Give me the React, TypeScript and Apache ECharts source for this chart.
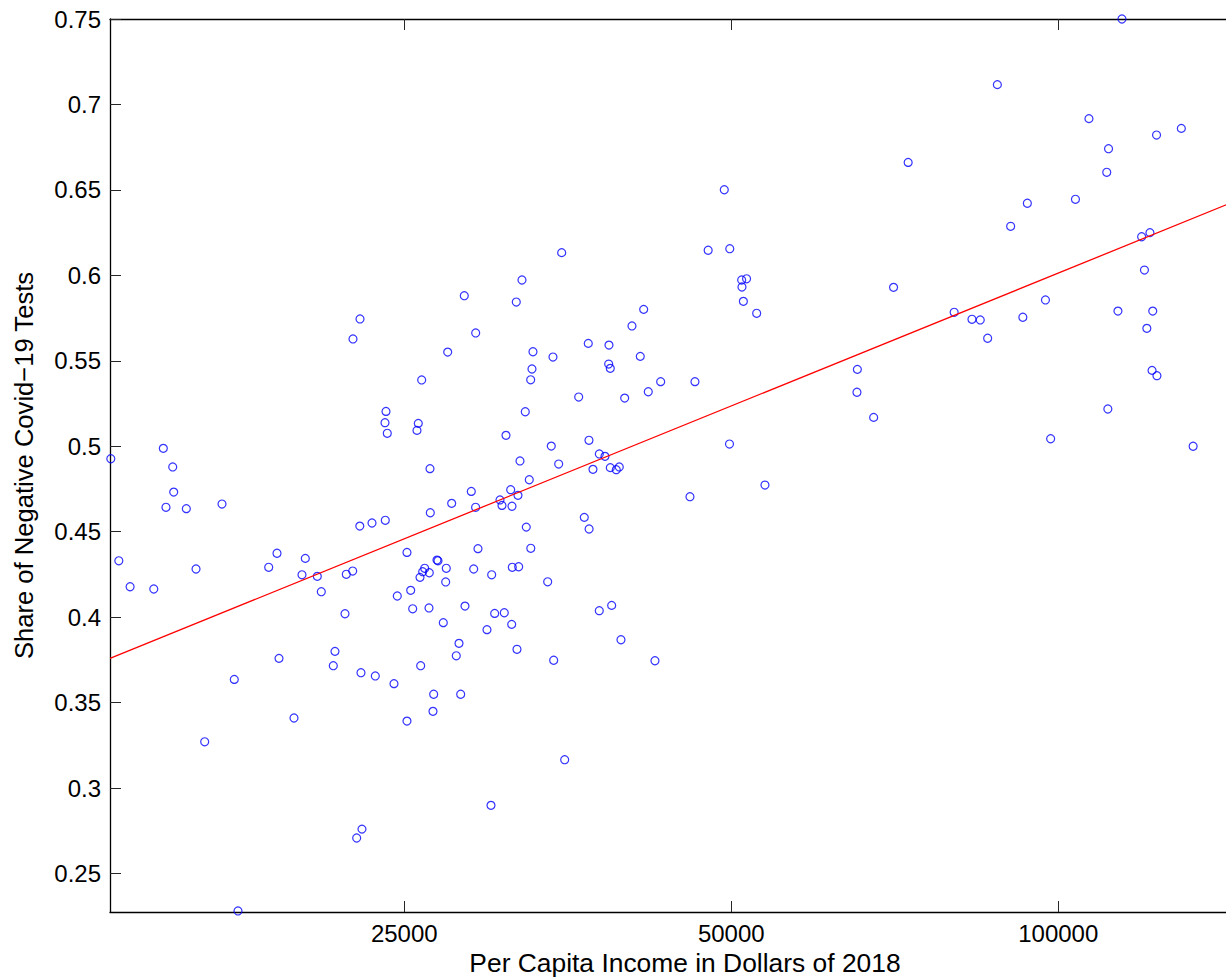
import React, { useEffect, useRef } from "react";
import * as echarts from "echarts";

// Per capita income (dollars of 2018)
const INCOME = [
  13420, 13650, 13980, 14700, 15000, 15085, 15302, 15334, 15750, 16077,
  16375, 16987, 17435, 17573, 18755, 19088, 19169, 19788, 20126, 20268,
  20790, 20967, 21584, 21507, 22047, 22107, 22424, 22410, 22600, 22760,
  22750, 22807, 22855, 23346, 23510, 24049, 23998, 24013, 24115, 24460,
  24632, 25143, 25143, 25342, 25449, 25682, 25753, 25846, 25884, 25939,
  25994, 26105, 26361, 26344, 26400, 26417, 26607, 26568, 26794, 26851,
  27155, 27293, 27328, 27409, 27642, 27913, 28074, 28175, 28391, 28433,
  28815, 28962, 29085, 29080, 29227, 29790, 30044, 30088, 30280, 30623,
  30753, 30903, 31015, 31325, 31432, 31392, 31412, 31699, 31861, 31813,
  31746, 31949, 32084, 32309, 32378, 32584, 32681, 32690, 32771, 32841,
  33880, 34140, 34263, 34314, 34680, 34901, 35124, 36182, 36614, 36925,
  36980, 36990, 37295, 37796, 37800, 38256, 38557, 38581, 38688, 38690,
  38803, 39183, 39433, 39576, 39887, 40509, 41228, 41527, 41933, 42533,
  43050, 45808, 46296, 47610, 49265, 49842, 49811, 51114, 51147, 51647,
  51299, 52766, 53702, 65321, 65266, 67617, 70531, 72748, 80199, 83283,
  84761, 86101, 87890, 90403, 92771, 93660, 97324, 98402, 103714, 106725,
  110828, 111251, 111087, 113490, 114457, 119337, 120047, 120660, 121455, 122179,
  121998, 123271, 123167, 129812, 133100,
];

// Share of negative Covid-19 tests, same order as INCOME
const NEG_SHARE = [
  0.4927, 0.4330, 0.4178, 0.4165, 0.4988, 0.4643, 0.4879, 0.4732, 0.4635, 0.4282,
  0.3271, 0.4662, 0.3636, 0.2281, 0.4292, 0.4374, 0.3759, 0.3410, 0.4248, 0.4344,
  0.4239, 0.4149, 0.3800, 0.3716, 0.4020, 0.4251, 0.5628, 0.4270, 0.2708, 0.5745,
  0.4533, 0.3675, 0.2760, 0.4551, 0.3656, 0.5204, 0.5138, 0.4567, 0.5076, 0.3611,
  0.4124, 0.4379, 0.3392, 0.4157, 0.4049, 0.5093, 0.5134, 0.4233, 0.3716, 0.5388,
  0.4266, 0.4286, 0.4260, 0.4054, 0.4869, 0.4611, 0.3549, 0.3449, 0.4334, 0.4330,
  0.3968, 0.4206, 0.4286, 0.5551, 0.4666, 0.3774, 0.3847, 0.3549, 0.5881, 0.4065,
  0.4736, 0.4282, 0.5663, 0.4643, 0.4401, 0.3927, 0.2899, 0.4248, 0.4022, 0.4686,
  0.4654, 0.4026, 0.5064, 0.4746, 0.4292, 0.3958, 0.4649, 0.5844, 0.4295, 0.4713,
  0.3812, 0.4914, 0.5973, 0.5202, 0.4527, 0.4804, 0.5389, 0.4403, 0.5452, 0.5553,
  0.4207, 0.5001, 0.5522, 0.3748, 0.4896, 0.6133, 0.3166, 0.5288, 0.4584, 0.5602,
  0.5035, 0.4516, 0.4865, 0.4038, 0.4955, 0.4941, 0.5481, 0.5592, 0.5456, 0.4875,
  0.4069, 0.4863, 0.4879, 0.3868, 0.5282, 0.5704, 0.5526, 0.5801, 0.5319, 0.3745,
  0.5378, 0.4705, 0.5378, 0.6147, 0.6501, 0.6156, 0.5013, 0.5973, 0.5932, 0.5980,
  0.5848, 0.5778, 0.4773, 0.5450, 0.5316, 0.5169, 0.5930, 0.6661, 0.5784, 0.5743,
  0.5739, 0.5632, 0.7116, 0.6287, 0.5755, 0.6422, 0.5856, 0.5044, 0.6445, 0.6917,
  0.6603, 0.6741, 0.5218, 0.5791, 0.7500, 0.6226, 0.6031, 0.5690, 0.6250, 0.5791,
  0.5444, 0.5413, 0.6821, 0.6860, 0.5000,
];

// Fitted line (straight on the log income axis), end points
const FIT_INCOME = [13397, 153370];
const FIT_SHARE = [0.3759, 0.6493];

const X_TICKS = [25000, 50000, 100000];
const Y_TICKS = [0.25, 0.3, 0.35, 0.4, 0.45, 0.5, 0.55, 0.6, 0.65, 0.7, 0.75];

const X_MIN = 13397;
const X_MAX = 153370;
const Y_MIN = 0.2275;
const Y_MAX = 0.75;

export default function App() {
  const ref = useRef<HTMLDivElement>(null);

  useEffect(() => {
    if (!ref.current) return;
    const chart = echarts.init(ref.current, null, { renderer: "svg" });
    const font = "'Liberation Sans', Arial, Helvetica, sans-serif";
    const lineStyle = { color: "#000000", width: 1.3 };
    const tickStyle = { color: "#262626", width: 1 };

    chart.setOption({
      animation: false,
      backgroundColor: "#ffffff",
      grid: {
        left: 110,
        top: 19,
        width: 1150,
        height: 893,
        containLabel: false,
        outerBoundsMode: "none",
      },
      xAxis: [
        {
          type: "log",
          logBase: 10,
          min: X_MIN,
          max: X_MAX,
          position: "bottom",
          name: "Per Capita Income in Dollars of 2018",
          nameLocation: "middle",
          nameGap: 37,
          nameTextStyle: { fontFamily: font, fontSize: 26.4, color: "#000" },
          axisLine: { show: true, lineStyle },
          axisTick: { show: true, inside: true, length: 11, customValues: X_TICKS, lineStyle: tickStyle },
          axisLabel: {
            show: true,
            customValues: X_TICKS,
            margin: 9,
            fontFamily: font,
            fontSize: 24,
            color: "#000",
            formatter: (v: number) => String(Math.round(v)),
          },
          splitLine: { show: false },
          minorTick: { show: false },
          minorSplitLine: { show: false },
        },
        {
          type: "log",
          logBase: 10,
          min: X_MIN,
          max: X_MAX,
          position: "top",
          axisLine: { show: true, lineStyle },
          axisTick: { show: true, inside: true, length: 11, customValues: X_TICKS, lineStyle: tickStyle },
          axisLabel: { show: false },
          splitLine: { show: false },
        },
      ],
      yAxis: [
        {
          type: "value",
          min: Y_MIN,
          max: Y_MAX,
          position: "left",
          name: "Share of Negative Covid\u221219 Tests",
          nameLocation: "middle",
          nameGap: 73,
          nameTextStyle: { fontFamily: font, fontSize: 25.6, color: "#000" },
          axisLine: { show: true, lineStyle },
          axisTick: { show: true, inside: true, length: 11, customValues: Y_TICKS, lineStyle: tickStyle },
          axisLabel: {
            show: true,
            customValues: Y_TICKS,
            margin: 9,
            fontFamily: font,
            fontSize: 24,
            color: "#000",
            formatter: (v: number) => String(Math.round(v * 100) / 100),
          },
          splitLine: { show: false },
        },
      ],
      series: [
        {
          type: "scatter",
          xAxisIndex: 0,
          yAxisIndex: 0,
          data: INCOME.map((x, i) => [x, NEG_SHARE[i]]),
          symbol: "circle",
          symbolSize: 8,
          itemStyle: { color: "rgba(0,0,0,0)", borderColor: "#0000ff", borderWidth: 1.2 },
          z: 2,
        },
        {
          type: "line",
          xAxisIndex: 0,
          yAxisIndex: 0,
          data: FIT_INCOME.map((x, i) => [x, FIT_SHARE[i]]),
          symbol: "none",
          lineStyle: { color: "#ff0000", width: 1.3 },
          silent: true,
          z: 3,
        },
      ],
    });

    return () => chart.dispose();
  }, []);

  return (
    <div
      ref={ref}
      style={{ position: "absolute", left: 0, top: 0, width: 1226, height: 977, background: "#fff" }}
    />
  );
}
